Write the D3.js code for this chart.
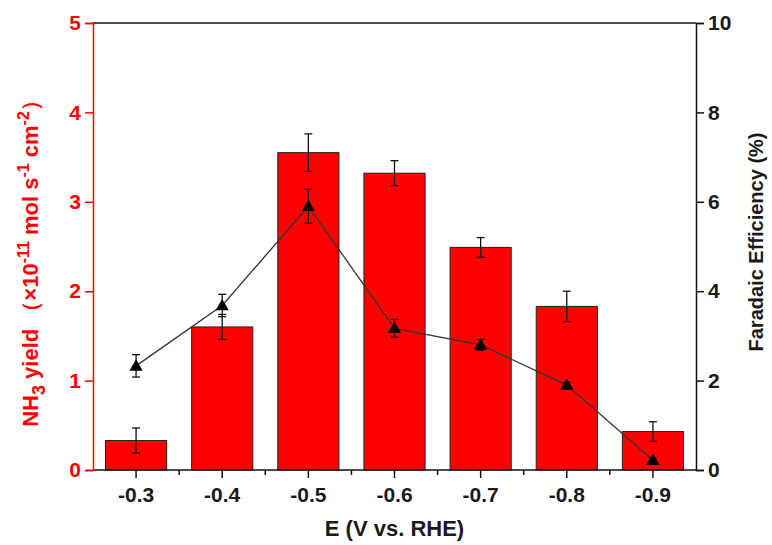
<!DOCTYPE html>
<html>
<head>
<meta charset="utf-8">
<script src="https://cdn.jsdelivr.net/npm/d3@7"></script>
<style>
  body { margin: 0; background: #fff; }
  text { font-family: "Liberation Sans", Arial, sans-serif; font-weight: bold; }
</style>
</head>
<body>
<div id="chart"></div>
<script>
// potentials (V vs. RHE)
var potentials = ["-0.3", "-0.4", "-0.5", "-0.6", "-0.7", "-0.8", "-0.9"];
// NH3 yield (x10^-11 mol s-1 cm-2) and error
var yieldVals = [0.33, 1.60, 3.55, 3.32, 2.49, 1.83, 0.43];
var yieldErr = [0.14, 0.14, 0.21, 0.14, 0.11, 0.17, 0.11];
// Faradaic efficiency (%) and error
var feVals = [2.33, 3.68, 5.90, 3.17, 2.80, 1.90, 0.22];
var feErr = [0.25, 0.25, 0.38, 0.20, 0.12, 0.06, 0.05];
var leftTicks = [0, 1, 2, 3, 4, 5];
var rightTicks = [0, 2, 4, 6, 8, 10];

var width = 772, height = 545;
var margin = { top: 23, right: 76, bottom: 75, left: 93 };
var w = width - margin.left - margin.right,
  h = height - margin.top - margin.bottom;

var svg = d3.select("#chart")
  .append("svg")
  .attr("width", width)
  .attr("height", height);

var g = svg.append("g")
  .attr("transform", "translate(" + margin.left + "," + margin.top + ")");

var x = d3.scaleBand()
  .domain(potentials)
  .range([0, w])
  .paddingInner(0.29)
  .paddingOuter(0.145);

var step = w / potentials.length;
var cx = function (i) { return (i + 0.5) * step; };

var yL = d3.scaleLinear().domain([0, 5]).range([h, 0]);
var yR = d3.scaleLinear().domain([0, 10]).range([h, 0]);

// bars
g.selectAll("rect.bar")
  .data(yieldVals)
  .enter()
  .append("rect")
  .attr("class", "bar")
  .attr("x", function (d, i) { return x(potentials[i]); })
  .attr("y", function (d) { return yL(d); })
  .attr("width", x.bandwidth())
  .attr("height", function (d) { return h - yL(d); })
  .style("fill", "#ff0000")
  .style("stroke", "#222")
  .style("stroke-width", 1);

// error bars helper
function errorBars(vals, errs, scale, cls) {
  var eb = g.selectAll("g." + cls)
    .data(vals)
    .enter()
    .append("g")
    .attr("class", cls)
    .style("stroke", "#111")
    .style("stroke-width", 1.3);
  eb.append("line")
    .attr("x1", function (d, i) { return cx(i); })
    .attr("x2", function (d, i) { return cx(i); })
    .attr("y1", function (d, i) { return scale(d + errs[i]); })
    .attr("y2", function (d, i) { return scale(d - errs[i]); });
  [1, -1].forEach(function (s) {
    eb.append("line")
      .attr("x1", function (d, i) { return cx(i) - 4; })
      .attr("x2", function (d, i) { return cx(i) + 4; })
      .attr("y1", function (d, i) { return scale(d + s * errs[i]); })
      .attr("y2", function (d, i) { return scale(d + s * errs[i]); });
  });
}
errorBars(yieldVals, yieldErr, yL, "errY");

// FE line
var line = d3.line()
  .x(function (d, i) { return cx(i); })
  .y(function (d) { return yR(d); });

g.append("path")
  .datum(feVals)
  .attr("d", line)
  .style("fill", "none")
  .style("stroke", "#333")
  .style("stroke-width", 1.3);

errorBars(feVals, feErr, yR, "errF");

var tri = d3.symbol().type(d3.symbolTriangle).size(75);
g.selectAll("path.tri")
  .data(feVals)
  .enter()
  .append("path")
  .attr("class", "tri")
  .attr("d", tri)
  .attr("transform", function (d, i) { return "translate(" + cx(i) + "," + (yR(d) + 1) + ")"; })
  .style("fill", "#000");

// top frame line
g.append("line")
  .attr("x1", 0).attr("x2", w)
  .attr("y1", 0).attr("y2", 0)
  .style("stroke", "#111").style("stroke-width", 1.5);

// bottom axis
var xAxis = g.append("g")
  .attr("transform", "translate(0," + h + ")");
xAxis.append("line")
  .attr("x1", 0).attr("x2", w)
  .style("stroke", "#111").style("stroke-width", 1.5);
xAxis.selectAll("line.major")
  .data(potentials)
  .enter()
  .append("line")
  .attr("x1", function (d, i) { return cx(i); })
  .attr("x2", function (d, i) { return cx(i); })
  .attr("y1", 0).attr("y2", 8)
  .style("stroke", "#111").style("stroke-width", 1.5);
xAxis.selectAll("line.minor")
  .data(d3.range(1, potentials.length))
  .enter()
  .append("line")
  .attr("x1", function (d) { return d * step; })
  .attr("x2", function (d) { return d * step; })
  .attr("y1", 0).attr("y2", 5)
  .style("stroke", "#111").style("stroke-width", 1.5);
xAxis.selectAll("text")
  .data(potentials)
  .enter()
  .append("text")
  .attr("x", function (d, i) { return cx(i); })
  .attr("y", 32)
  .attr("text-anchor", "middle")
  .style("font-size", "21px")
  .style("fill", "#1a1a1a")
  .text(function (d) { return d; });

svg.append("text")
  .attr("x", margin.left + w / 2)
  .attr("y", 536)
  .attr("text-anchor", "middle")
  .style("font-size", "22px")
  .style("fill", "#1a1a1a")
  .text("E (V vs. RHE)");

// left axis (red)
var left = g.append("g")
  .call(d3.axisLeft(yL).tickValues(leftTicks).tickSize(8).tickPadding(4).tickFormat(d3.format("d")));
left.select(".domain").style("stroke", "#ff0000").style("stroke-width", 1.5);
left.selectAll(".tick line").style("stroke", "#ff0000").style("stroke-width", 1.5);
left.selectAll(".tick text")
  .style("fill", "#ff0000")
  .style("font-size", "21px")
  .style("font-family", "'Liberation Sans', Arial, sans-serif")
  .style("font-weight", "bold");

// right axis
var right = g.append("g")
  .attr("transform", "translate(" + w + ",0)")
  .call(d3.axisRight(yR).tickValues(rightTicks).tickSize(8).tickPadding(4).tickFormat(d3.format("d")));
right.select(".domain").style("stroke", "#111").style("stroke-width", 1.5);
right.selectAll(".tick line").style("stroke", "#111").style("stroke-width", 1.5);
right.selectAll(".tick text")
  .style("fill", "#1a1a1a")
  .style("font-size", "21px")
  .style("font-family", "'Liberation Sans', Arial, sans-serif")
  .style("font-weight", "bold");

// left title
var lt = svg.append("text")
  .attr("transform", "translate(38,258) rotate(-90)")
  .attr("text-anchor", "middle")
  .style("font-size", "22px")
  .style("fill", "#ff0000");
lt.append("tspan").text("NH");
lt.append("tspan").attr("dy", 7).style("font-size", "18px").text("3");
lt.append("tspan").attr("dy", -7).text(" yield （×10");
lt.append("tspan").attr("dy", -9).style("font-size", "16px").text("-11");
lt.append("tspan").attr("dy", 9).text(" mol s");
lt.append("tspan").attr("dy", -9).style("font-size", "16px").text("-1");
lt.append("tspan").attr("dy", 9).text(" cm");
lt.append("tspan").attr("dy", -9).style("font-size", "16px").text("-2");
lt.append("tspan").attr("dy", 9).text("）");

// right title
svg.append("text")
  .attr("transform", "translate(763,242) rotate(-90)")
  .attr("text-anchor", "middle")
  .style("font-size", "20px")
  .style("fill", "#1a1a1a")
  .text("Faradaic Efficiency (%)");
</script>
</body>
</html>
